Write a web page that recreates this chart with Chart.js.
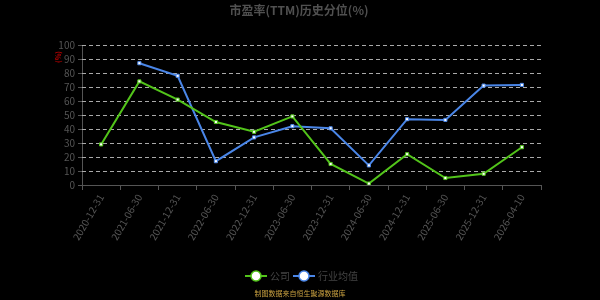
<!DOCTYPE html>
<html><head><meta charset="utf-8">
<script src="https://cdn.jsdelivr.net/npm/chart.js@4"></script>
<style>html,body{margin:0;padding:0;background:#000;}#wrap{width:600px;height:300px;}</style>
</head><body><div id="wrap"><canvas id="c" width="600" height="300"></canvas></div>
<script>
const categories = ["2020-12-31","2021-06-30","2021-12-31","2022-06-30","2022-12-31","2023-06-30","2023-12-31","2024-06-30","2024-12-31","2025-06-30","2025-12-31","2026-04-10"];
const companyValues = [29, 74, 61, 45, 38, 49, 15, 1, 22, 5, 8, 27];
const industryValues = [null, 87, 78, 17, 34, 42, 40.5, 14, 47, 46.5, 71, 71.5];
const yTicks = [0,10,20,30,40,50,60,70,80,90,100];
const seriesNames = ["公司","行业均值"];
const titleText = "市盈率(TTM)历史分位(%)";
const unitText = "(%)";
const footerText = "制图数据来自恒生聚源数据库";
const FONT = "'Noto Sans CJK SC','Noto Sans',sans-serif";
const colors = ["#52c41a", "#4a86e8"];

const grid = {
  id: 'dashGrid',
  beforeDatasetsDraw(chart) {
    const ctx = chart.ctx, y = chart.scales.y, a = chart.chartArea;
    ctx.save();
    ctx.strokeStyle = '#aaa'; ctx.lineWidth = 1; ctx.setLineDash([4, 3]);
    y.ticks.forEach(t => {
      if (t.value === 0) return;
      const py = Math.round(y.getPixelForValue(t.value)) + 0.5;
      ctx.beginPath(); ctx.moveTo(a.left, py); ctx.lineTo(a.right, py); ctx.stroke();
    });
    ctx.restore();
  }
};

const deco = {
  id: 'deco',
  afterDraw(chart) {
    const ctx = chart.ctx;
    ctx.save();
    ctx.fillStyle = '#505050';
    ctx.font = "bold 12px " + FONT;
    ctx.textAlign = 'center'; ctx.textBaseline = 'middle';
    ctx.fillText(titleText, 299, 10);
    ctx.save();
    ctx.translate(58, 57); ctx.rotate(-Math.PI/2);
    ctx.fillStyle = '#c00000'; ctx.font = "bold 7px " + FONT;
    ctx.fillText(unitText, 0, 0);
    ctx.restore();
    const items = [{x: 256, c: colors[0], t: seriesNames[0]}, {x: 304, c: colors[1], t: seriesNames[1]}];
    items.forEach(it => {
      ctx.strokeStyle = it.c; ctx.lineWidth = 2;
      ctx.beginPath(); ctx.moveTo(it.x - 11, 276); ctx.lineTo(it.x + 11, 276); ctx.stroke();
      ctx.beginPath(); ctx.arc(it.x, 276, 5, 0, Math.PI*2);
      ctx.fillStyle = '#fff'; ctx.fill(); ctx.lineWidth = 1.5; ctx.stroke();
      ctx.fillStyle = '#444'; ctx.font = "10px " + FONT; ctx.textAlign = 'left';
      ctx.fillText(it.t, it.x + 14, 276);
    });
    ctx.fillStyle = '#c8a040'; ctx.font = "7px " + FONT; ctx.textAlign = 'center';
    ctx.fillText(footerText, 300, 293);
    ctx.restore();
  }
};

new Chart(document.getElementById('c'), {
  type: 'line',
  data: {
    labels: categories,
    datasets: [
      {label: seriesNames[0], data: companyValues, borderColor: colors[0], backgroundColor: '#fff', borderWidth: 2, pointStyle: 'rect', pointRadius: 2.2, pointBorderWidth: 1, pointBorderColor: colors[0], pointBackgroundColor: '#fff', tension: 0},
      {label: seriesNames[1], data: industryValues, borderColor: colors[1], backgroundColor: '#fff', borderWidth: 2, pointStyle: 'rect', pointRadius: 2.2, pointBorderWidth: 1, pointBorderColor: colors[1], pointBackgroundColor: '#fff', tension: 0, spanGaps: false}
    ]
  },
  options: {
    responsive: false, animation: false, devicePixelRatio: 1,
    layout: {padding: {top: 45, right: 59, left: 0, bottom: 0}},
    plugins: {legend: {display: false}, title: {display: false}, tooltip: {enabled: false}},
    scales: {
      x: {
        offset: true,
        grid: {display: true, drawOnChartArea: false, drawTicks: true, tickLength: 5, offset: true, color: '#555'},
        border: {display: true, color: '#555'},
        ticks: {color: '#555', font: {size: 10, family: FONT}, maxRotation: 60, minRotation: 60, autoSkip: false, padding: 2},
        afterFit(s) { s.height = 115; }
      },
      y: {
        min: 0, max: 100,
        afterBuildTicks(s) { s.ticks = yTicks.map(v => ({value: v})); },
        grid: {display: true, drawOnChartArea: false, drawTicks: true, tickLength: 4, color: '#555'},
        border: {display: true, color: '#555'},
        ticks: {color: '#555', font: {size: 10, family: FONT}, padding: 3, autoSkip: false},
        afterFit(s) { s.width = 82; }
      }
    }
  },
  plugins: [grid, deco]
});
</script>
</body></html>
